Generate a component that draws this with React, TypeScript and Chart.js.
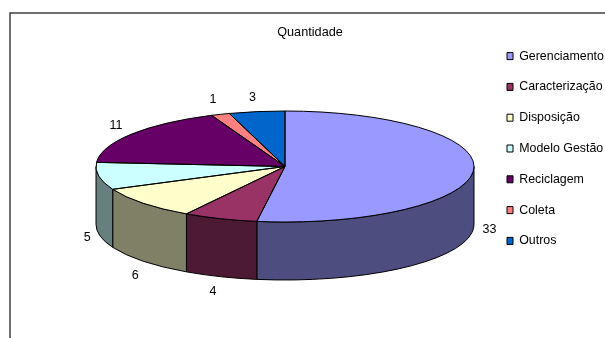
import React, { useEffect, useRef } from "react";
import { Chart, registerables } from "chart.js";

Chart.register(...registerables);

const categories = ["Gerenciamento", "Caracterização", "Disposição", "Modelo Gestão", "Reciclagem", "Coleta", "Outros"];
const quantities = [33, 4, 6, 5, 11, 1, 3];
const topColors = ["#9999FF", "#993366", "#FFFFCC", "#CCFFFF", "#660066", "#FF8080", "#0066CC"];
const wallColors = ["#4D4D80", "#4D1A33", "#808066", "#668080", "#330033", "#804040", "#003366"];

const FONT = "'Liberation Sans', Arial, sans-serif";
const WIDTH = 605;
const HEIGHT = 338;

// Tilted disc geometry of the pie on the canvas
const CX = 285;
const CY = 166.5;
const RX = 189;
const RY = 55.5;
const DEPTH = 58;
const LABEL_RX = 205;
const LABEL_RY = 72;
// Small per-slice adjustments that keep value labels clear of the disc edge
const labelNudgeX = [0, -2, 4, 4, -2.5, -2, -2];
const labelNudgeY = [0, -1, 3, 1, 1.5, 1, 2.5];

const frame = {
  id: "frame",
  beforeDraw(chart: any) {
    const { ctx } = chart;
    ctx.save();
    ctx.strokeStyle = "#333333";
    ctx.lineWidth = 1.4;
    ctx.strokeRect(10, 13, WIDTH + 20, HEIGHT + 20);
    ctx.restore();
  },
};

// Moves the legend to its fixed spot at the right of the plot
const legendPlacement = {
  id: "legendPlacement",
  afterLayout(chart: any) {
    const legend = chart.legend;
    const shiftX = 507 - (legend.left + legend.options.labels.padding);
    const shiftY = 31.5 - legend.top;
    legend.left += shiftX;
    legend.right += shiftX;
    legend.top += shiftY;
    legend.bottom += shiftY;
  },
};

// Squashes the library's circular pie into a disc and adds the wall beneath it
const disc3d = {
  id: "disc3d",
  beforeDatasetsDraw(chart: any) {
    const { ctx } = chart;
    const arcs = chart.getDatasetMeta(0).data;
    ctx.save();
    ctx.strokeStyle = "#000000";
    ctx.lineWidth = 1;
    arcs.forEach((arc: any, i: number) => {
      const a = Math.max(arc.startAngle, 0);
      const b = Math.min(arc.endAngle, Math.PI);
      if (b <= a) return;
      ctx.beginPath();
      ctx.ellipse(CX, CY, RX, RY, 0, a, b);
      ctx.ellipse(CX, CY + DEPTH, RX, RY, 0, b, a, true);
      ctx.closePath();
      ctx.fillStyle = wallColors[i];
      ctx.fill();
      ctx.stroke();
    });
    ctx.restore();

    const first = arcs[0];
    const R = first.outerRadius;
    ctx.save();
    ctx.translate(CX, CY);
    ctx.scale(RX / R, RY / R);
    ctx.translate(-first.x, -first.y);
  },
  afterDatasetsDraw(chart: any) {
    const { ctx } = chart;
    ctx.restore();
    const arcs = chart.getDatasetMeta(0).data;
    ctx.save();
    ctx.strokeStyle = "#000000";
    ctx.lineWidth = 1;
    arcs.forEach((arc: any) => {
      ctx.beginPath();
      ctx.moveTo(CX, CY);
      ctx.ellipse(CX, CY, RX, RY, 0, arc.startAngle, arc.endAngle);
      ctx.closePath();
      ctx.stroke();
    });

    ctx.fillStyle = "#000000";
    ctx.font = `12.5px ${FONT}`;
    ctx.textAlign = "center";
    ctx.textBaseline = "middle";
    arcs.forEach((arc: any, i: number) => {
      const mid = (arc.startAngle + arc.endAngle) / 2;
      const sin = Math.sin(mid);
      const x = CX + LABEL_RX * Math.cos(mid) + labelNudgeX[i];
      const y = CY + LABEL_RY * sin + (sin >= 0 ? DEPTH : 0) + labelNudgeY[i];
      ctx.fillText(String(quantities[i]), x, y);
    });
    ctx.restore();
  },
};

export default function App() {
  const ref = useRef<HTMLCanvasElement>(null);

  useEffect(() => {
    const chart = new Chart(ref.current as HTMLCanvasElement, {
      type: "pie",
      data: {
        labels: categories,
        datasets: [
          {
            data: quantities,
            backgroundColor: topColors,
            borderWidth: 0,
            clip: false,
          } as any,
        ],
      },
      options: {
        responsive: false,
        animation: false,
        layout: { padding: { left: 15 } },
        plugins: {
          tooltip: { enabled: false },
          title: {
            display: true,
            text: "Quantidade",
            color: "#000000",
            font: { family: FONT, size: 12.7, weight: "normal" },
            padding: { top: 25, bottom: 0 },
          },
          legend: {
            position: "right",
            align: "start",
            labels: {
              boxWidth: 6,
              boxHeight: 7,
              padding: 18.4,
              color: "#000000",
              font: { family: FONT, size: 12.4 },
              generateLabels() {
                return categories.map((text, index) => ({
                  text,
                  index,
                  fillStyle: topColors[index],
                  strokeStyle: "#000000",
                  lineWidth: 1,
                  hidden: false,
                }));
              },
            },
          },
        },
      } as any,
      plugins: [frame, legendPlacement, disc3d],
    });
    return () => chart.destroy();
  }, []);

  return (
    <div style={{ position: "fixed", left: 0, top: 0 }}>
      <canvas ref={ref} width={WIDTH} height={HEIGHT} style={{ display: "block" }} />
    </div>
  );
}
